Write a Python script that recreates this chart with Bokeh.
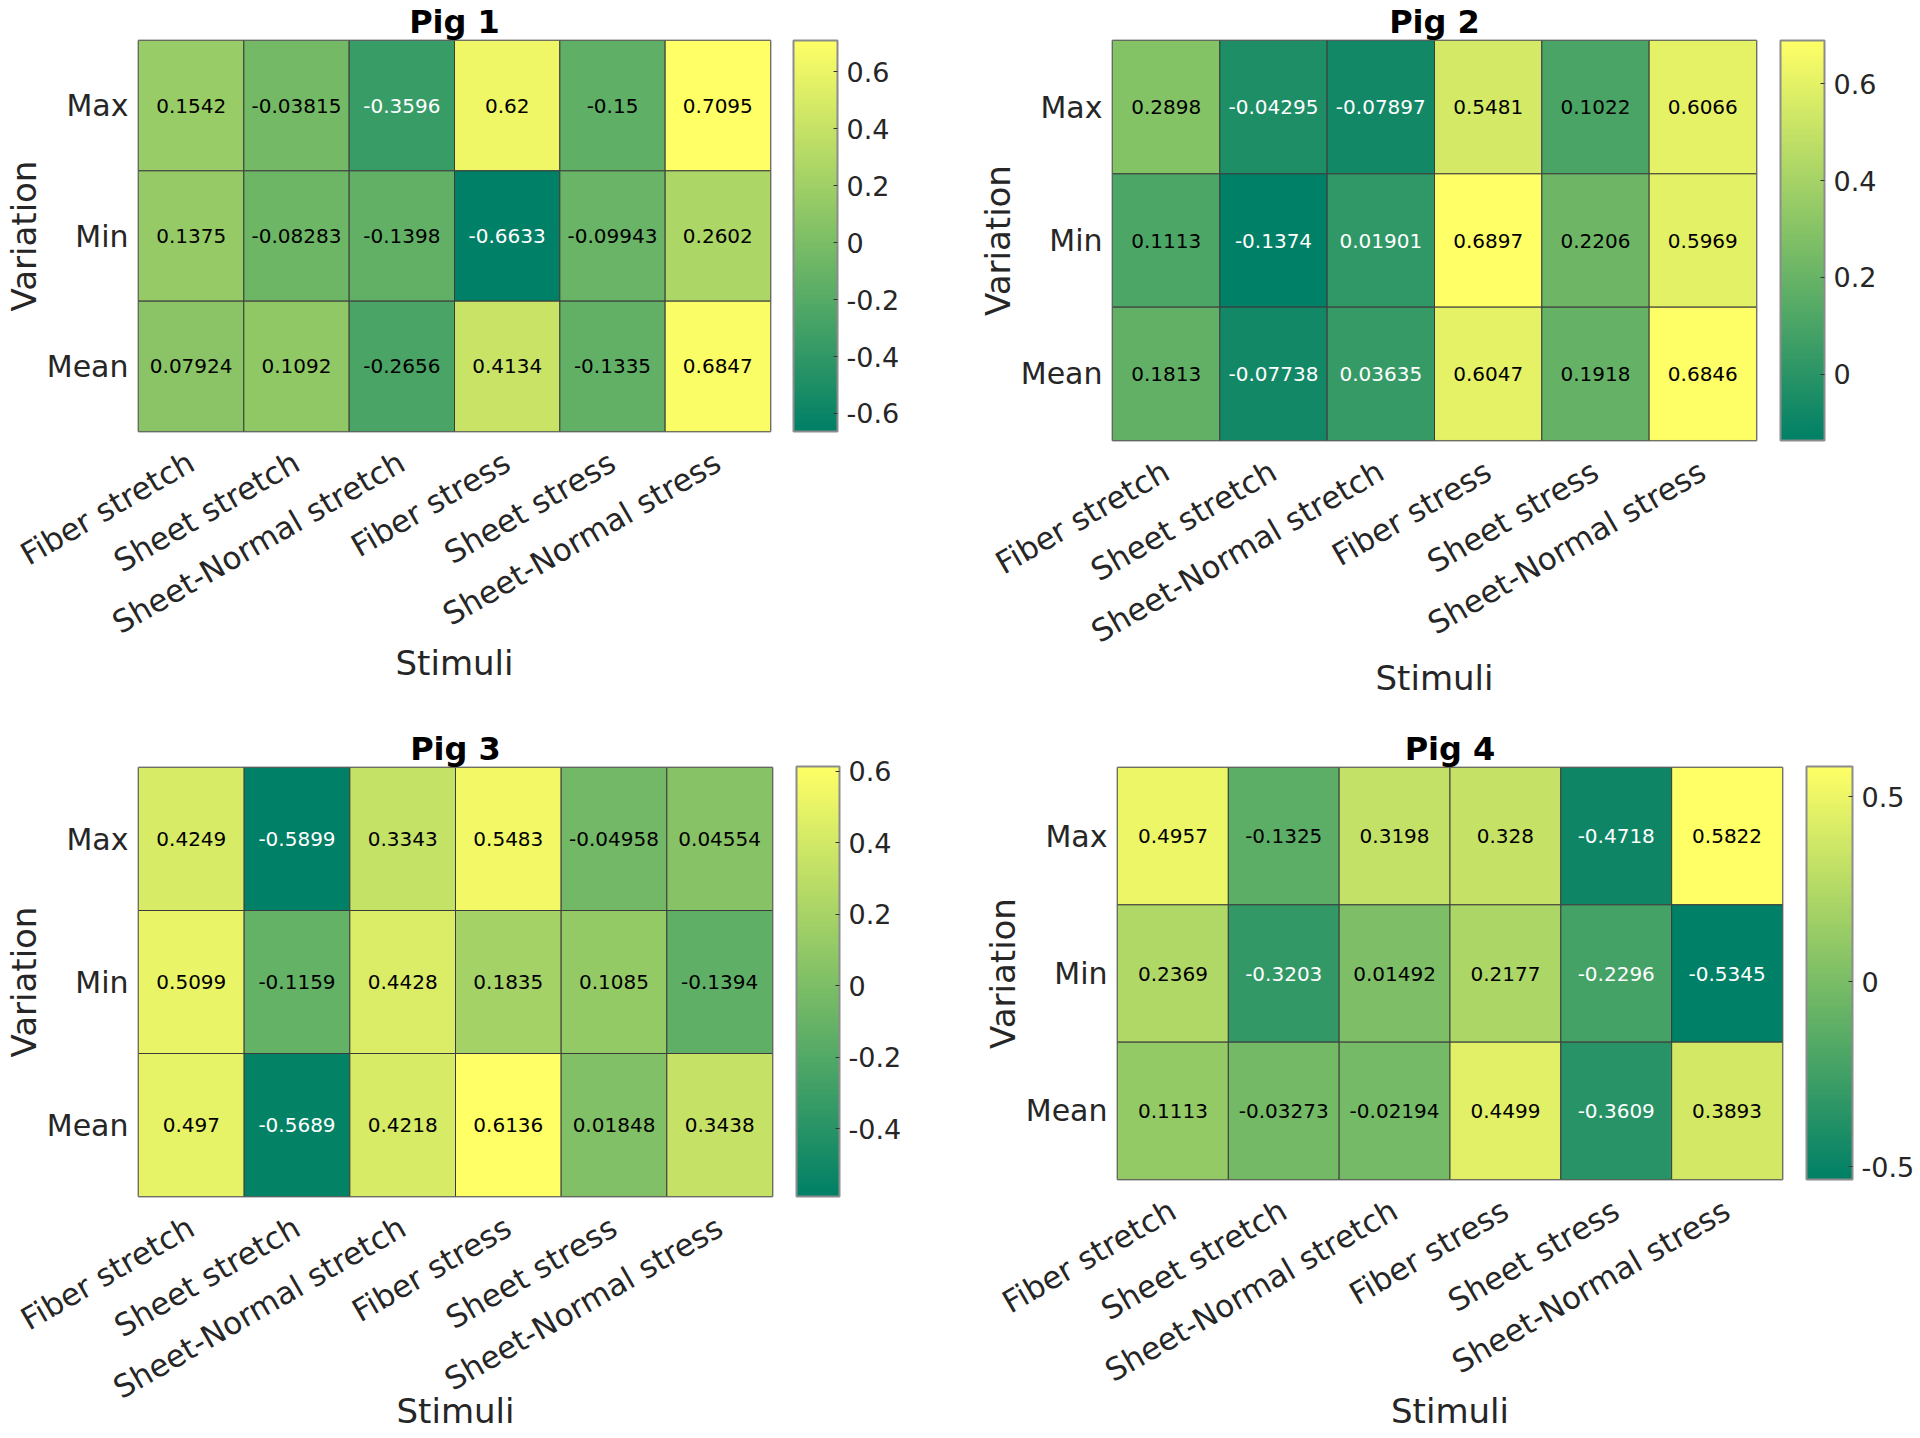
import math
from bokeh.plotting import figure
from bokeh.models import (ColumnDataSource, LinearColorMapper, ColorBar, FixedTicker,
                          PrintfTickFormatter)
from bokeh.layouts import column, row
from bokeh.embed import file_html
from bokeh.resources import INLINE
from bokeh.core.properties import value

stimuli = ["Fiber stretch", "Sheet stretch", "Sheet-Normal stretch",
           "Fiber stress", "Sheet stress", "Sheet-Normal stress"]
variations = ["Max", "Min", "Mean"]

pig1_max = [0.1542, -0.03815, -0.3596, 0.62, -0.15, 0.7095]
pig1_min = [0.1375, -0.08283, -0.1398, -0.6633, -0.09943, 0.2602]
pig1_mean = [0.07924, 0.1092, -0.2656, 0.4134, -0.1335, 0.6847]

pig2_max = [0.2898, -0.04295, -0.07897, 0.5481, 0.1022, 0.6066]
pig2_min = [0.1113, -0.1374, 0.01901, 0.6897, 0.2206, 0.5969]
pig2_mean = [0.1813, -0.07738, 0.03635, 0.6047, 0.1918, 0.6846]

pig3_max = [0.4249, -0.5899, 0.3343, 0.5483, -0.04958, 0.04554]
pig3_min = [0.5099, -0.1159, 0.4428, 0.1835, 0.1085, -0.1394]
pig3_mean = [0.497, -0.5689, 0.4218, 0.6136, 0.01848, 0.3438]

pig4_max = [0.4957, -0.1325, 0.3198, 0.328, -0.4718, 0.5822]
pig4_min = [0.2369, -0.3203, 0.01492, 0.2177, -0.2296, -0.5345]
pig4_mean = [0.1113, -0.03273, -0.02194, 0.4499, -0.3609, 0.3893]

cbar_ticks1 = [-0.6, -0.4, -0.2, 0, 0.2, 0.4, 0.6]
cbar_ticks2 = [0, 0.2, 0.4, 0.6]
cbar_ticks3 = [-0.4, -0.2, 0, 0.2, 0.4, 0.6]
cbar_ticks4 = [-0.5, 0, 0.5]

# MATLAB "summer" colormap
N = 256
summer = ["#%02x%02x%02x" % (round(255 * i / (N - 1)),
                             round(255 * (0.5 + 0.5 * i / (N - 1))),
                             102) for i in range(N)]

FONT = "DejaVu Sans"
TXT = "#262626"
EDGE = "#8c8c8c"


def heat(title, mx, mn, me, ticks, fig_w, fig_h, bl, bt, fw, fh, gap, cbw,
         xlab_standoff):
    rows = {"Max": mx, "Min": mn, "Mean": me}
    allv = mx + mn + me
    lo, hi = min(allv), max(allv)
    xs, ys, vs, labels, tcs = [], [], [], [], []
    for var in variations:
        for s, v in zip(stimuli, rows[var]):
            xs.append(s)
            ys.append(var)
            vs.append(v)
            labels.append(f"{v:.4g}")
            t = (v - lo) / (hi - lo)
            tcs.append("#ffffff" if t < 0.28 else "#000000")
    src = ColumnDataSource(dict(x=xs, y=ys, v=vs, label=labels, tc=tcs))
    mapper = LinearColorMapper(palette=summer, low=lo, high=hi)

    p = figure(x_range=stimuli, y_range=list(reversed(variations)),
               width=fig_w, height=fig_h, output_backend="svg",
               toolbar_location=None,
               min_border_left=bl, min_border_right=fig_w - bl - fw,
               min_border_top=bt, min_border_bottom=fig_h - bt - fh)
    p.frame_align = False
    p.rect(x="x", y="y", width=1, height=1, source=src,
           fill_color={"field": "v", "transform": mapper},
           line_color="#3c3c3c", line_width=1)
    p.text(x="x", y="y", text="label", text_color="tc", source=src,
           text_align="center", text_baseline="middle",
           text_font=value(FONT), text_font_size="20px")

    p.title.text = title
    p.title.align = "center"
    p.title.text_font = FONT
    p.title.text_font_size = "32px"
    p.title.text_font_style = "bold"
    p.title.text_color = "#000000"
    p.title.standoff = 0

    p.grid.visible = False
    p.outline_line_color = EDGE
    p.outline_line_width = 2
    for ax in (p.xaxis, p.yaxis):
        ax.axis_line_color = None
        ax.major_tick_line_color = None
        ax.minor_tick_line_color = None
        ax.major_label_text_font = FONT
        ax.major_label_text_color = TXT
        ax.axis_label_text_font = FONT
        ax.axis_label_text_font_size = "34px"
        ax.axis_label_text_font_style = "normal"
        ax.axis_label_text_color = TXT
    p.xaxis.major_label_text_font_size = "31px"
    p.yaxis.major_label_text_font_size = "30px"
    p.xaxis.major_label_orientation = math.pi / 6
    p.xaxis.axis_label = "Stimuli"
    p.yaxis.axis_label = "Variation"
    p.xaxis.major_label_standoff = 22
    p.xaxis.axis_label_standoff = xlab_standoff
    p.yaxis.major_label_standoff = 4
    p.yaxis.axis_label_standoff = 0

    cb = ColorBar(color_mapper=mapper, ticker=FixedTicker(ticks=ticks),
                  formatter=PrintfTickFormatter(format="%g"),
                  location=(fw + gap, 0), width=cbw, height=fh,
                  padding=0, margin=0,
                  major_label_text_font=FONT, major_label_text_font_size="27px",
                  major_label_text_color=TXT,
                  major_tick_line_color="#333333", major_tick_in=4, major_tick_out=0,
                  minor_tick_line_color=None,
                  bar_line_color=EDGE, bar_line_width=2, border_line_color=None,
                  background_fill_alpha=0, label_standoff=9)
    p.add_layout(cb, "center")
    return p


p1 = heat("Pig 1", pig1_max, pig1_min, pig1_mean, cbar_ticks1,
          958, 727, 138, 40, 632, 391, 23, 44, -16)
p2 = heat("Pig 2", pig2_max, pig2_min, pig2_mean, cbar_ticks2,
          962, 727, 154, 40, 644, 400, 24, 44, -10)
p3 = heat("Pig 3", pig3_max, pig3_min, pig3_mean, cbar_ticks3,
          958, 711, 136, 39, 636, 430, 22, 43, -33)
p4 = heat("Pig 4", pig4_max, pig4_min, pig4_mean, cbar_ticks4,
          962, 711, 159, 39, 665, 413, 24, 46, -16)

layout = column(row(p1, p2), row(p3, p4))
open("out.html", "w").write(file_html(layout, INLINE))
